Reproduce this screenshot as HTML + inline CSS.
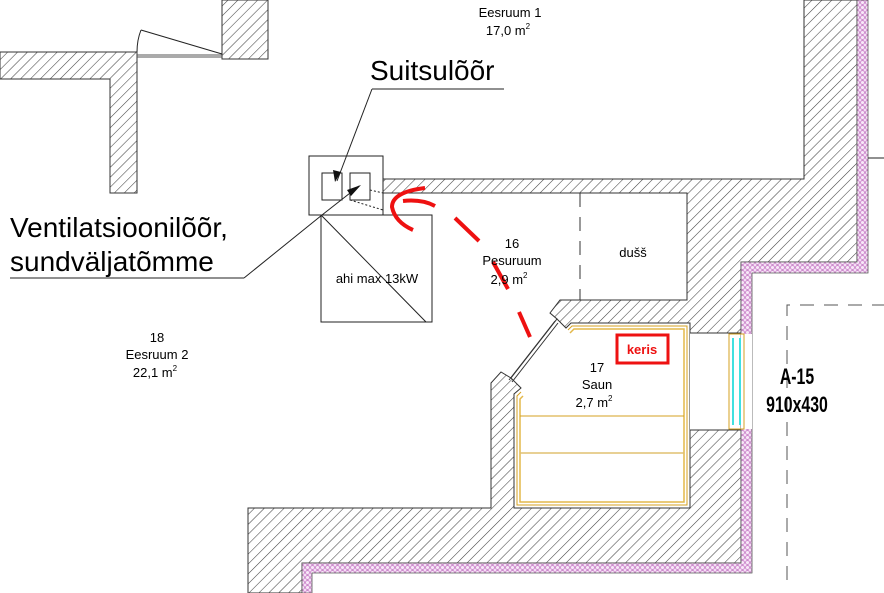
<!DOCTYPE html>
<html><head><meta charset="utf-8"><style>
html,body{margin:0;padding:0;background:#fff;}
svg{display:block;}
text{font-family:"Liberation Sans",sans-serif;fill:#000;}
</style></head><body>
<svg width="884" height="593" viewBox="0 0 884 593" xmlns="http://www.w3.org/2000/svg">
<defs>
<pattern id="h" width="7" height="7" patternUnits="userSpaceOnUse" patternTransform="rotate(45)">
<line x1="0" y1="0" x2="0" y2="7" stroke="#444" stroke-width="1.1"/>
</pattern>
<pattern id="p" width="5" height="5" patternUnits="userSpaceOnUse">
<rect width="5" height="5" fill="#f8e8f8"/>
<circle cx="2.5" cy="2.5" r="2" fill="none" stroke="#cc88cc" stroke-width="0.9"/>
</pattern>
</defs>

<polygon points="0,52 137,52 137,193 110,193 110,79 0,79" fill="url(#h)" stroke="#333"/>
<rect x="222" y="0" width="46" height="59" fill="url(#h)" stroke="#333"/>
<line x1="137" y1="55" x2="222" y2="55" stroke="#555" stroke-width="1"/>
<line x1="137" y1="57" x2="222" y2="57" stroke="#555" stroke-width="1"/>
<line x1="141" y1="30" x2="222" y2="54" stroke="#222"/>
<path d="M141,30 Q137,40 137,52" fill="none" stroke="#222"/>

<polygon points="383,179 804,179 804,0 857,0 857,262 741,262 741,563 302,563 302,593 248,593 248,508 491,508 491,383 501,372 511,378 557,319 550,313 560,300 687,300 687,193 383,193" fill="url(#h)" stroke="#333"/>
<polygon points="511,378 521,388 514,394 514,508 690,508 690,323 571,323 566,328 557,319" fill="#fff" stroke="#333"/>
<rect x="690" y="333" width="62" height="97" fill="#fff"/>
<line x1="690" y1="333" x2="752" y2="333" stroke="#333"/>
<line x1="690" y1="430" x2="752" y2="430" stroke="#333"/>
<polygon points="857,0 868,0 868,273 752,273 752,573 312,573 312,593 302,593 302,563 741,563 741,262 857,262" fill="url(#p)" stroke="#555" stroke-width="0.8"/>
<rect x="741" y="334" width="11" height="95" fill="#fff"/>
<rect x="729" y="334" width="15" height="95" fill="none" stroke="#d4a020"/>
<line x1="733" y1="338" x2="733" y2="425" stroke="#40e0e0" stroke-width="2"/>
<line x1="740" y1="338" x2="740" y2="425" stroke="#40e0e0" stroke-width="2"/>
<line x1="868" y1="158" x2="884" y2="158" stroke="#222"/>

<polyline points="521,392 517,396 517,505 687,505 687,326 572,326 568,330" fill="none" stroke="#d4a020" stroke-width="1"/>
<polyline points="523,396 520,399 520,502 684,502 684,329 574,329 570,333" fill="none" stroke="#e3b84a" stroke-width="1.5"/>
<line x1="520" y1="416" x2="684" y2="416" stroke="#d4a020"/>
<line x1="520" y1="453" x2="684" y2="453" stroke="#e0c070" stroke-width="1.5"/>
<line x1="509" y1="380" x2="555" y2="321" stroke="#333"/>
<line x1="512" y1="382" x2="558" y2="323" stroke="#333"/>

<line x1="580" y1="193" x2="580" y2="300" stroke="#333" stroke-dasharray="14,10"/>
<path d="M787,580 L787,305 L884,305" fill="none" stroke="#555" stroke-dasharray="14,10"/>

<rect x="309" y="156" width="74" height="59" fill="#fff" stroke="#222"/>
<rect x="322" y="173" width="20" height="27" fill="none" stroke="#222"/>
<rect x="350" y="173" width="20" height="27" fill="none" stroke="#222"/>
<line x1="370" y1="190" x2="383" y2="193" stroke="#222" stroke-dasharray="2,2"/>
<line x1="350" y1="200" x2="383" y2="210" stroke="#222" stroke-dasharray="2,2"/>
<rect x="321" y="215" width="111" height="107" fill="none" stroke="#222"/>
<line x1="321" y1="215" x2="426" y2="322" stroke="#222"/>

<line x1="372" y1="89" x2="504" y2="89" stroke="#222"/>
<line x1="372" y1="89" x2="337" y2="181" stroke="#222"/>
<polygon points="335,182 333,170 341,172" fill="#111"/>
<line x1="10" y1="278" x2="244" y2="278" stroke="#222"/>
<polyline points="244,278 322,215 359,186" fill="none" stroke="#222"/>
<polygon points="361,185 351,196 347,190" fill="#111"/>

<g stroke="#ee1111" stroke-width="4" fill="none">
<path d="M425,188 Q392,192 392,207 Q395,222 413,230"/>
<path d="M403,201 Q422,199 435,206"/>
<line x1="455" y1="218" x2="479" y2="241"/>
<line x1="493" y1="262" x2="508" y2="289"/>
<line x1="519" y1="312" x2="530" y2="337"/>
</g>
<rect x="617" y="335" width="51" height="28" fill="#fff" stroke="#ee1111" stroke-width="3"/>
<text x="642" y="354" font-size="13" font-weight="bold" text-anchor="middle" style="fill:#ee1111">keris</text>

<text x="370" y="80" font-size="28">Suitsulõõr</text>
<text x="10" y="237" font-size="28">Ventilatsioonilõõr,</text>
<text x="10" y="271" font-size="28">sundväljatõmme</text>
<g font-size="13" text-anchor="middle">
<text x="510" y="17">Eesruum 1</text>
<text x="508" y="35">17,0 m<tspan font-size="8" dy="-6">2</tspan></text>
<text x="512" y="248">16</text>
<text x="512" y="265">Pesuruum</text>
<text x="509" y="284">2,9 m<tspan font-size="8" dy="-6">2</tspan></text>
<text x="633" y="257">dušš</text>
<text x="377" y="283">ahi max 13kW</text>
<text x="157" y="342">18</text>
<text x="157" y="359">Eesruum 2</text>
<text x="155" y="377">22,1 m<tspan font-size="8" dy="-6">2</tspan></text>
<text x="597" y="372">17</text>
<text x="597" y="389">Saun</text>
<text x="594" y="407">2,7 m<tspan font-size="8" dy="-6">2</tspan></text>
</g>
<text x="797" y="384" font-size="22" font-weight="bold" text-anchor="middle" transform="translate(797,0) scale(0.72,1) translate(-797,0)">A-15</text>
<text x="797" y="412" font-size="22" font-weight="bold" text-anchor="middle" transform="translate(797,0) scale(0.72,1) translate(-797,0)">910x430</text>
</svg>
</body></html>
